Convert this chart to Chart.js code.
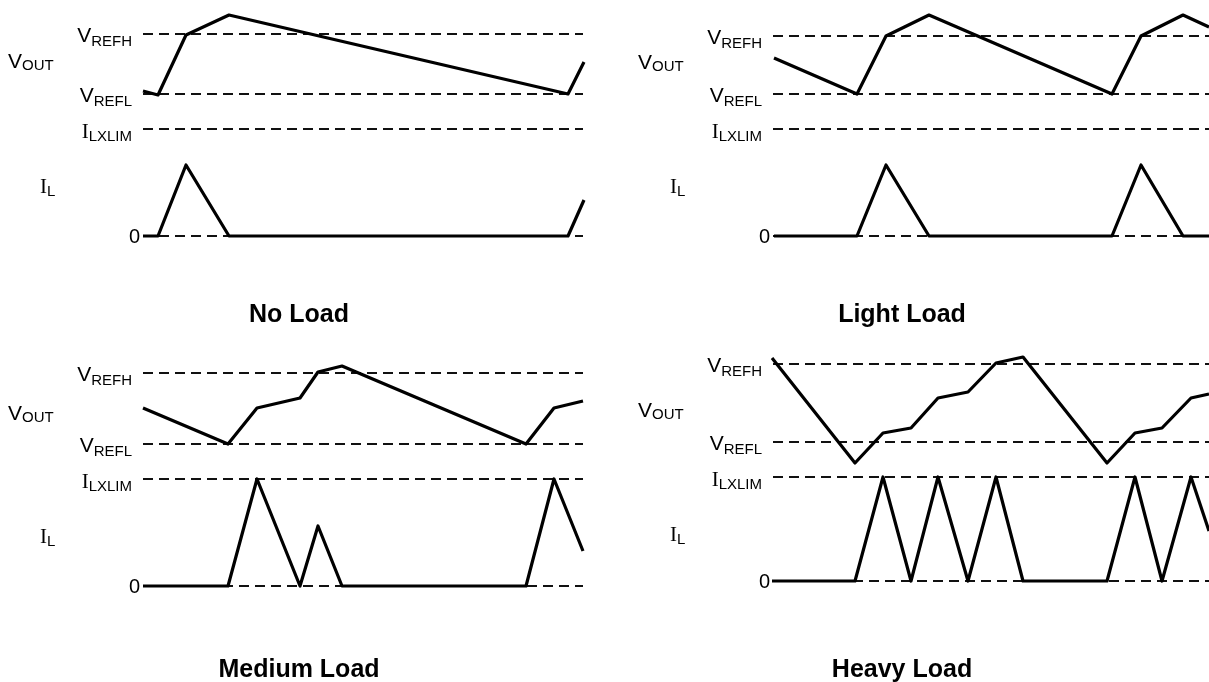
<!DOCTYPE html>
<html>
<head>
<meta charset="utf-8">
<script src="https://cdn.jsdelivr.net/npm/chart.js@4"></script>
<style>
  html, body { margin: 0; padding: 0; background: #fff; }
  body { width: 1209px; height: 682px; overflow: hidden; position: relative; }
  canvas { position: absolute; }
</style>
</head>
<body>
<canvas id="noLoad" width="604" height="341" style="left:0px;top:0px"></canvas>
<canvas id="lightLoad" width="604" height="341" style="left:630px;top:0px"></canvas>
<canvas id="mediumLoad" width="604" height="341" style="left:0px;top:341px"></canvas>
<canvas id="heavyLoad" width="604" height="341" style="left:630px;top:341px"></canvas>
<script>
// time axis (same units for every panel), levels are height above the I_L zero line
const refLabels = [['V', 'REFH'], ['V', 'REFL'], ['I', 'LXLIM'], ['0', '']];
const titles = ['No Load', 'Light Load', 'Medium Load', 'Heavy Load'];

// No Load
const noLoadT = [143, 158, 186, 229, 568, 584];
const noLoadVout = [145, 141, 201, 221, 142, 174];
const noLoadIl = [0, 0, 71, 0, 0, 36];
const noLoadLevels = [202, 142, 107, 0];

// Light Load
const lightT = [144, 227, 256, 299, 482, 511, 553, 579];
const lightVout = [178, 142, 200, 221, 142, 200, 221, 209];
const lightIl = [0, 0, 71, 0, 0, 71, 0, 0];
const lightLevels = [200, 142, 107, 0];

// Medium Load
const mediumT = [143, 228, 257, 300, 318, 342, 526, 554, 583];
const mediumVout = [178, 142, 178, 188, 214, 220, 142, 178, 185];
const mediumIl = [0, 0, 107, 0, 60, 0, 0, 107, 35];
const mediumLevels = [213, 142, 107, 0];

// Heavy Load
const heavyT = [142, 225, 253, 281, 308, 338, 366, 393, 477, 505, 532, 561, 579];
const heavyVout = [223, 118, 148, 153, 183, 189, 218, 224, 118, 148, 153, 183, 187];
const heavyIl = [0, 0, 104, 0, 104, 0, 104, 0, 0, 104, 0, 104, 50];
const heavyLevels = [217, 139, 104, 0];

const dashStart = 143;
const dashEnd = 583;

const SUB_FONT = '15px "Liberation Sans", Arial, sans-serif';
const SANS = '21px "Liberation Sans", Arial, sans-serif';
const SERIF = '21px "Liberation Serif", "Times New Roman", serif';

function pts(xs, ys) {
    return xs.map((x, i) => ({ x: x, y: ys[i] }));
}

function drawSub(ctx, main, sub, font, x, base, align, drop) {
    ctx.font = font;
    const wMain = ctx.measureText(main).width;
    ctx.font = SUB_FONT;
    const wSub = ctx.measureText(sub).width;
    const start = align === 'right' ? x - wMain - wSub : x;
    ctx.font = font;
    ctx.fillText(main, start, base);
    ctx.font = SUB_FONT;
    ctx.fillText(sub, start + wMain, base + drop);
}

const labelPlugin = {
    id: 'waveLabels',
    afterDraw(chart, args, opts) {
        const ctx = chart.ctx;
        const xs = chart.scales.x;
        const ys = chart.scales.y;
        ctx.save();
        ctx.fillStyle = '#000';
        ctx.textAlign = 'left';
        ctx.textBaseline = 'alphabetic';

        opts.levels.forEach((lv, i) => {
            const py = ys.getPixelForValue(lv);
            const lab = refLabels[i];
            if (i === 3) {
                ctx.font = '20px "Liberation Sans", Arial, sans-serif';
                ctx.textAlign = 'right';
                ctx.fillText(lab[0], xs.getPixelForValue(140), py + 7);
                ctx.textAlign = 'left';
            } else if (i === 2) {
                drawSub(ctx, lab[0], lab[1], SERIF, xs.getPixelForValue(132), py + 9, 'right', 3);
            } else {
                drawSub(ctx, lab[0], lab[1], SANS, xs.getPixelForValue(132), py + 8, 'right', 3.5);
            }
        });

        drawSub(ctx, 'V', 'OUT', SANS, xs.getPixelForValue(8), ys.getPixelForValue(opts.voutLabel), 'left', 2);
        drawSub(ctx, 'I', 'L', SERIF, xs.getPixelForValue(40), ys.getPixelForValue(opts.ilLabel), 'left', 2.5);

        ctx.font = 'bold 25px "Liberation Sans", Arial, sans-serif';
        ctx.textAlign = 'center';
        ctx.fillText(opts.title, opts.titleX, opts.titleY);
        ctx.restore();
    }
};

function makePanel(id, t, vout, il, levels, yMin, yMax, extra) {
    const datasets = [
        { data: pts(t, vout), borderColor: '#000', borderWidth: 3.2, borderJoinStyle: 'round' },
        { data: pts(t, il), borderColor: '#000', borderWidth: 3.2, borderJoinStyle: 'round' }
    ];
    levels.forEach((lv) => {
        datasets.push({
            data: [{ x: dashStart, y: lv }, { x: dashEnd, y: lv }],
            borderColor: '#111',
            borderWidth: 2,
            borderDash: [10, 6]
        });
    });

    return new Chart(document.getElementById(id), {
        type: 'line',
        data: { datasets: datasets },
        options: {
            responsive: false,
            animation: false,
            devicePixelRatio: 1,
            layout: { padding: 0 },
            elements: { point: { radius: 0 }, line: { tension: 0, fill: false } },
            scales: {
                x: { type: 'linear', min: 0, max: 604, display: false },
                y: { type: 'linear', min: yMin, max: yMax, display: false }
            },
            plugins: {
                legend: { display: false },
                tooltip: { enabled: false },
                waveLabels: Object.assign({ levels: levels }, extra)
            }
        },
        plugins: [labelPlugin]
    });
}

makePanel('noLoad', noLoadT, noLoadVout, noLoadIl, noLoadLevels, -105, 236,
    { title: titles[0], titleX: 299, titleY: 322, voutLabel: 168, ilLabel: 43 });
makePanel('lightLoad', lightT, lightVout, lightIl, lightLevels, -105, 236,
    { title: titles[1], titleX: 272, titleY: 322, voutLabel: 167, ilLabel: 43 });
makePanel('mediumLoad', mediumT, mediumVout, mediumIl, mediumLevels, -96, 245,
    { title: titles[2], titleX: 299, titleY: 336, voutLabel: 166, ilLabel: 43 });
makePanel('heavyLoad', heavyT, heavyVout, heavyIl, heavyLevels, -101, 240,
    { title: titles[3], titleX: 272, titleY: 336, voutLabel: 164, ilLabel: 40 });
</script>
</body>
</html>
